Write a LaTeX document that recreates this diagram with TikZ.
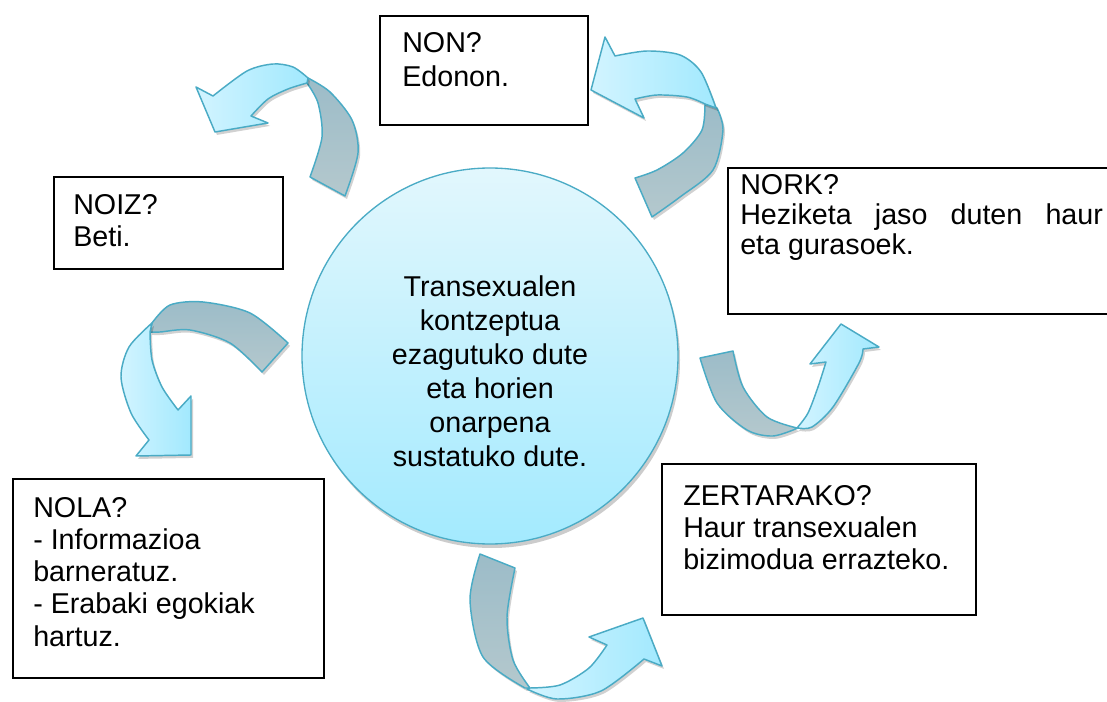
\documentclass[tikz,border=0pt]{standalone}
\usepackage{fontspec}
\setmainfont{Liberation Sans}
\usetikzlibrary{shadows}
\definecolor{outl}{HTML}{4AABC5}
\definecolor{ltA}{HTML}{D2F4FF}
\definecolor{ltB}{HTML}{A2E9FE}
\definecolor{dkA}{HTML}{9CBCC8}
\definecolor{dkB}{HTML}{B4C8CD}
\definecolor{ciA}{HTML}{E2F7FD}
\definecolor{ciB}{HTML}{A3EAFE}
\newcommand\txtlines[3]{{\fontsize{21.5}{#1}\selectfont\begin{tabular}[t]{@{}#2@{}}#3\end{tabular}}}
\tikzset{
  box/.style={draw=black, line width=1.4pt, fill=white, anchor=north west, inner sep=0pt},
  lbl/.style={anchor=base west, inner sep=0pt},
  shad/.style={drop shadow={shadow xshift=1.5pt, shadow yshift=-2.2pt, opacity=0.18, fill=black}},
  lightpart/.style={draw=outl, line width=1.1pt, line join=round, left color=ltA, right color=ltB, shad},
  darkpart/.style={draw=outl, line width=1.1pt, line join=round, top color=dkA, bottom color=dkB, shad},
}
\begin{document}
\begin{tikzpicture}[x=0.75pt, y=-0.75pt]
\useasboundingbox[fill=white] (0,0) rectangle (1107,702);

% central circle
\node[circle, draw=outl, line width=1pt, top color=ciA, bottom color=ciB, minimum size=282pt, inner sep=0pt,
  drop shadow={shadow xshift=1.5pt, shadow yshift=-3pt, opacity=0.2, fill=black}] (c) at (490,356) {};
\node[anchor=base, inner sep=0pt] (ctext) at (490,297) {\txtlines{25.5}{c}{Transexualen\\kontzeptua\\ezagutuko dute\\eta horien\\onarpena\\sustatuko dute.}};

% boxes
\node[box, minimum width=156pt, minimum height=81.75pt] (non) at (379,15) {};
\node[lbl] (nont) at (402,53) {\txtlines{25.5}{l}{NON?\\Edonon.}};

\node[box, minimum width=171.75pt, minimum height=69pt] (noiz) at (53,176) {};
\node[lbl] (noizt) at (73,215) {\txtlines{24}{l}{NOIZ?\\Beti.}};

\node[box, minimum width=300pt, minimum height=109.5pt] (nork) at (727,167) {};
\node[lbl] (norkt) at (740,195) {\txtlines{22}{l}{NORK?\\\makebox[272pt][s]{Heziketa jaso duten haur}\\eta gurasoek.}};

\node[box, minimum width=233.25pt, minimum height=149.25pt] (nola) at (12,478) {};
\node[lbl] (nolat) at (33,517) {\txtlines{24.2}{l}{NOLA?\\- Informazioa\\barneratuz.\\- Erabaki egokiak\\hartuz.}};

\node[box, minimum width=235.5pt, minimum height=113.25pt] (zer) at (661,463) {};
\node[lbl] (zert) at (683,505) {\txtlines{24}{l}{ZERTARAKO?\\Haur transexualen\\bizimodua errazteko.}};

% arrow 1 (top left)
\path[darkpart] (308,78) -- plot[smooth] coordinates {(308,78) (330,92) (352,120) (358,153) (345,196)}
  -- plot[smooth] coordinates {(310,177) (322,137) (318,103) (307,83)} -- cycle;
\path[lightpart] (308,78) -- plot[smooth] coordinates {(308,78) (293,67) (273,64) (247,71) (213,96)}
  -- (196,87) -- (215,132) -- (268,123)
  -- plot[smooth] coordinates {(251,116) (268,99) (288,89) (307,83)} -- cycle;

% arrow 2 (top right)
\path[darkpart] (717,108) -- plot[smooth] coordinates {(717,108) (723,130) (713,170) (680,197) (652,217)}
  -- plot[smooth] coordinates {(635,178) (657,170) (683,153) (702,130) (705,104)} -- cycle;
\path[lightpart] (716,108) -- plot[smooth] coordinates {(716,108) (701,72) (680,55) (647,51) (615,56)}
  -- (605,37) -- (591,90) -- (644,118)
  -- plot[smooth] coordinates {(635,99) (657,95) (687,97) (705,104)} -- cycle;

% arrow 3 (right)
\path[darkpart] (700,358) -- plot[smooth] coordinates {(700,358) (717,403) (747,430) (773,436) (798,428)}
  -- plot[smooth] coordinates {(797,428) (767,417) (743,387) (733,351)} -- cycle;
\path[lightpart] (798,428) -- plot[smooth] coordinates {(798,428) (812,427) (833,407) (859,363) (863,349)}
  -- (879,347) -- (841,324) -- (810,364)
  -- plot[smooth] coordinates {(826,362) (818,387) (808,413) (797,428)} -- cycle;

% arrow 4 (bottom)
\path[darkpart] (480,554) -- plot[smooth] coordinates {(480,554) (470,600) (483,657) (525,688)}
  -- plot[smooth] coordinates {(530,688) (513,660) (507,617) (515,568)} -- cycle;
\path[lightpart] (527,689) -- plot[smooth] coordinates {(527,689) (557,699) (601,691) (644,659)}
  -- (662,666) -- (643,618) -- (589,637)
  -- plot[smooth] coordinates {(607,645) (589,668) (560,685) (530,688)} -- cycle;

% arrow 5 (left)
\path[darkpart] (262,372) -- plot[smooth] coordinates {(262,372) (230,343) (190,330) (160,332) (150,332)}
  -- plot[smooth] coordinates {(152,323) (170,305) (203,302) (250,313) (288,343)} -- cycle;
\path[lightpart] (152,323) -- plot[smooth] coordinates {(152,323) (129,347) (121,377) (131,413) (149,440)}
  -- (136,456) -- (191,455) -- (191,396)
  -- plot[smooth] coordinates {(178,410) (162,387) (152,360) (150,332)} -- cycle;
\end{tikzpicture}
\end{document}
